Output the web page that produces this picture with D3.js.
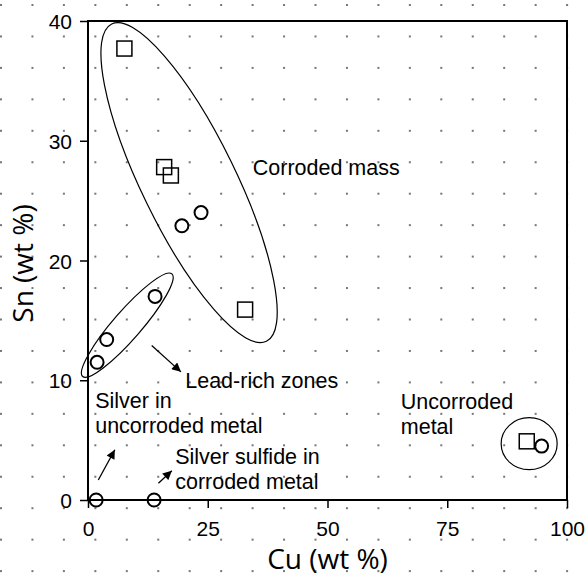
<!DOCTYPE html>
<html>
<head>
<meta charset="utf-8">
<script src="https://cdn.jsdelivr.net/npm/d3@7"></script>
<style>
  body { margin: 0; background: #fff; }
  svg { display: block; }
  .tick text { font-family: "Liberation Sans", Arial, sans-serif; font-size: 21px; fill: #000; }
  .note { font-family: "Liberation Sans", Arial, sans-serif; font-size: 21.5px; fill: #000; }
  .title { font-family: "Open Sans", "Noto Sans", sans-serif; font-size: 28px; fill: #000; }
</style>
</head>
<body>
<script>
// measured points (wt %)
var squareCu = [7.6, 15.9, 17.3, 32.8, 91.6];
var squareSn = [37.7, 27.8, 27.1, 15.9, 4.9];
var circleCu = [19.6, 23.6, 14.0, 3.9, 1.9, 1.7, 13.8, 94.7];
var circleSn = [22.9, 24.0, 17.0, 13.4, 11.5, 0, 0, 4.5];

var xTicks = [0, 25, 50, 75, 100];
var yTicks = [0, 10, 20, 30, 40];

// group outlines: centre in data units
var groupCu = [21.1, 8.2, 92.1];
var groupSn = [26.5, 14.6, 4.7];

var noteText = [["Corroded mass"], ["Lead-rich zones"], ["Silver in", "uncorroded metal"],
                ["Silver sulfide in", "corroded metal"], ["Uncorroded", "metal"]];
var noteCu = [34.4, 20.3, 1.5, 18.2, 65.3];
var noteSn = [27.1, 9.35, 7.7, 3.0, 7.6];

var arrowFrom = [[13.3, 12.9], [2.15, 1.67], [14.7, 1.4]];
var arrowTo = [[19.4, 10.7], [5.6, 4.2], [17.5, 2.45]];

var width = 585, height = 577;
var svg = d3.select("body").append("svg").attr("width", width).attr("height", height);

var x = d3.scaleLinear().domain([0, 100]).range([88, 567]);
var y = d3.scaleLinear().domain([0, 40]).range([500, 21]);

// dotted page background
var dots = [];
for (var i = 0; i * 31.45 < width; i++) {
  for (var j = 0; j * 31.45 < height; j++) {
    dots.push([1 + i * 31.45, 5 + j * 31.45]);
  }
}
svg.append("g").selectAll("rect")
    .data(dots)
  .enter().append("rect")
    .attr("x", function(d) { return d[0] - 1; })
    .attr("y", function(d) { return d[1] - 1; })
    .attr("width", 2).attr("height", 2)
    .attr("fill", "#777");

svg.append("defs").append("marker")
    .attr("id", "head")
    .attr("viewBox", "0 0 10 10")
    .attr("refX", 10).attr("refY", 5)
    .attr("markerWidth", 10).attr("markerHeight", 9)
    .attr("markerUnits", "userSpaceOnUse")
    .attr("orient", "auto")
  .append("path")
    .attr("d", "M0,0 L10,5 L0,10 z")
    .attr("fill", "#000");

// axes
var xAxis = svg.append("g")
    .attr("transform", "translate(0," + y(0) + ")")
    .call(d3.axisBottom(x).tickValues(xTicks).tickSize(8).tickPadding(13));
var yAxis = svg.append("g")
    .attr("transform", "translate(" + x(0) + ",0)")
    .call(d3.axisLeft(y).tickValues(yTicks).tickSize(8).tickPadding(8));
[xAxis, yAxis].forEach(function(a) {
  a.select(".domain").remove();
  a.selectAll(".tick line").attr("stroke", "#000").attr("stroke-width", 1.5);
});
yAxis.selectAll(".tick text").attr("dy", "0.36em");

svg.append("rect")
    .attr("x", x(0)).attr("y", y(40))
    .attr("width", x(100) - x(0)).attr("height", y(0) - y(40))
    .attr("fill", "none").attr("stroke", "#000").attr("stroke-width", 2);

svg.append("text").attr("class", "title")
    .attr("x", (x(0) + x(100)) / 2).attr("y", 569)
    .attr("text-anchor", "middle")
    .text("Cu (wt %)");
svg.append("text").attr("class", "title")
    .attr("transform", "translate(33," + ((y(0) + y(40)) / 2 + 3) + ") rotate(-90)")
    .attr("text-anchor", "middle")
    .text("Sn (wt %)");

// group outlines
var groupR = [[176.5, 47, 64], [68, 14, -49], [28, 26, 0]];
svg.append("g").selectAll("ellipse")
    .data(groupCu)
  .enter().append("ellipse")
    .attr("transform", function(d, k) {
      return "translate(" + x(d) + "," + y(groupSn[k]) + ") rotate(" + groupR[k][2] + ")";
    })
    .attr("rx", function(d, k) { return groupR[k][0]; })
    .attr("ry", function(d, k) { return groupR[k][1]; })
    .attr("fill", "none").attr("stroke", "#000").attr("stroke-width", 1.2);

// points
svg.append("g").selectAll("rect")
    .data(squareCu)
  .enter().append("rect")
    .attr("x", function(d) { return x(d) - 7.5; })
    .attr("y", function(d, k) { return y(squareSn[k]) - 7.5; })
    .attr("width", 15).attr("height", 15)
    .attr("fill", "none").attr("stroke", "#000").attr("stroke-width", 1.5);

svg.append("g").selectAll("circle")
    .data(circleCu)
  .enter().append("circle")
    .attr("cx", function(d) { return x(d); })
    .attr("cy", function(d, k) { return y(circleSn[k]); })
    .attr("r", 6.5)
    .attr("fill", "none").attr("stroke", "#000").attr("stroke-width", 2);

// labels and arrows
var notes = svg.append("g").selectAll("text")
    .data(noteText)
  .enter().append("text")
    .attr("class", "note")
    .attr("x", function(d, k) { return x(noteCu[k]); })
    .attr("y", function(d, k) { return y(noteSn[k]); });
notes.each(function(d, k) {
  var el = d3.select(this);
  for (var n = 0; n < d.length; n++) {
    el.append("tspan")
      .attr("x", x(noteCu[k]))
      .attr("dy", n === 0 ? 0 : 25)
      .text(d[n]);
  }
});

svg.append("g").selectAll("line")
    .data(arrowFrom)
  .enter().append("line")
    .attr("x1", function(d) { return x(d[0]); })
    .attr("y1", function(d) { return y(d[1]); })
    .attr("x2", function(d, k) { return x(arrowTo[k][0]); })
    .attr("y2", function(d, k) { return y(arrowTo[k][1]); })
    .attr("stroke", "#000").attr("stroke-width", 1.3)
    .attr("marker-end", "url(#head)");
</script>
</body>
</html>
